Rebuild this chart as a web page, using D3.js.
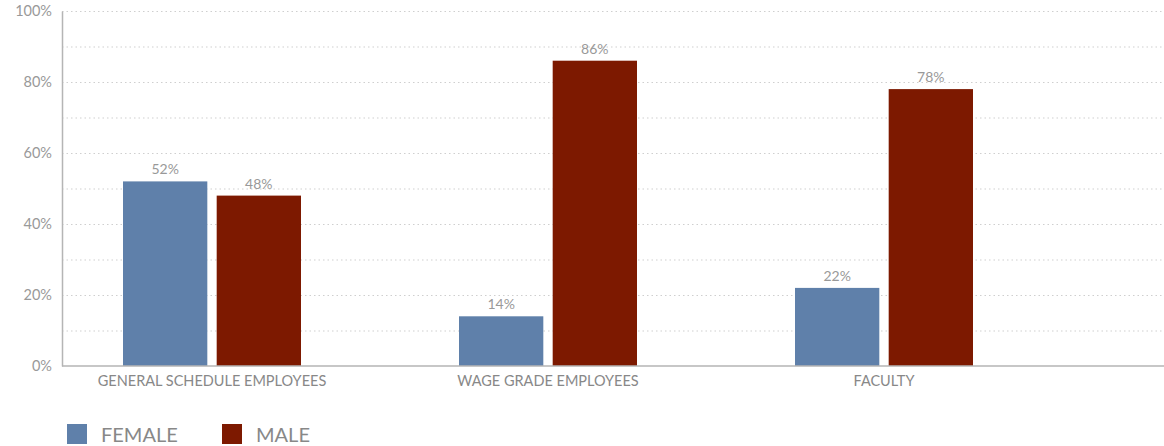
<!DOCTYPE html>
<html>
<head>
<meta charset="utf-8">
<script src="https://cdn.jsdelivr.net/npm/d3@7"></script>
<style>
  body { margin: 0; background: #fff; }
  text { font-family: Lato, "Open Sans", sans-serif; }
</style>
</head>
<body>
<div id="chart"></div>
<script>
const categories = ["GENERAL SCHEDULE EMPLOYEES", "WAGE GRADE EMPLOYEES", "FACULTY"]
const series = ["FEMALE", "MALE"]
const female = [52, 14, 22]
const male = [48, 86, 78]
const yTicks = [0, 20, 40, 60, 80, 100]
const colors = ["#5f80aa", "#7d1900"]

const width = 1164, height = 446
const plot = { left: 62, right: 1164, top: 11, bottom: 366 }

const svg = d3.select("#chart")
    .append("svg")
    .attr("width", width)
    .attr("height", height)

const x = d3.scaleBand()
    .domain(categories)
    .range([44, 1052])

const xSub = d3.scaleBand()
    .domain(series)
    .range([79, 257])
    .paddingInner(0.1)

const y = d3.scaleLinear()
    .domain([0, 100])
    .range([plot.bottom, plot.top])

// dotted grid every 10%
svg.append("g")
    .selectAll("line")
    .data(d3.range(10, 101, 10))
    .enter().append("line")
    .attr("x1", plot.left)
    .attr("x2", plot.right)
    .attr("y1", d => y(d) + 0.5)
    .attr("y2", d => y(d) + 0.5)
    .style("stroke", "#cfcfcf")
    .style("stroke-width", 1)
    .style("stroke-dasharray", "1.5,3")

// y axis
const yAxis = svg.append("g")
    .attr("transform", "translate(" + plot.left + ",0)")
    .call(d3.axisLeft(y).tickValues(yTicks).tickFormat(d => d + "%").tickSize(0).tickPadding(10))
yAxis.select(".domain").style("stroke", "#b5b5b5").style("stroke-width", 1.5)
yAxis.selectAll("text").style("fill", "#999").style("font-size", "14.5px")

// bars
const rows = categories.map((c, i) => ({ cat: c, values: [female[i], male[i]] }))

const groups = svg.selectAll("g.cat")
    .data(rows)
    .enter().append("g")
    .attr("class", "cat")
    .attr("transform", d => "translate(" + x(d.cat) + ",0)")

groups.selectAll("rect")
    .data(d => d.values.map((v, j) => ({ key: series[j], value: v, j: j })))
    .enter().append("rect")
    .attr("x", d => xSub(d.key))
    .attr("width", xSub.bandwidth())
    .attr("y", d => y(d.value))
    .attr("height", d => y(0) - y(d.value))
    .style("fill", d => colors[d.j])

groups.selectAll("text.val")
    .data(d => d.values.map((v, j) => ({ key: series[j], value: v })))
    .enter().append("text")
    .attr("class", "val")
    .attr("x", d => xSub(d.key) + xSub.bandwidth() / 2)
    .attr("y", d => y(d.value) - 7)
    .attr("text-anchor", "middle")
    .style("fill", "#999")
    .style("font-size", "14px")
    .text(d => d.value + "%")

// x axis
const xAxis = svg.append("g")
    .attr("transform", "translate(0," + plot.bottom + ")")
    .call(d3.axisBottom(x).tickSize(0).tickPadding(10))
xAxis.select(".domain").remove()
xAxis.append("line")
    .attr("x1", plot.left)
    .attr("x2", plot.right)
    .style("stroke", "#b5b5b5")
    .style("stroke-width", 1.5)
xAxis.selectAll("text").style("fill", "#888").style("font-size", "14.5px")

// legend
const legend = svg.selectAll("g.legend")
    .data(series)
    .enter().append("g")
    .attr("class", "legend")
    .attr("transform", (d, i) => "translate(" + (67 + i * 155) + ",424)")

legend.append("rect")
    .attr("width", 20)
    .attr("height", 20)
    .style("fill", (d, i) => colors[i])

legend.append("text")
    .attr("x", 34)
    .attr("y", 18)
    .style("fill", "#888")
    .style("font-size", "20px")
    .text(d => d)
</script>
</body>
</html>
